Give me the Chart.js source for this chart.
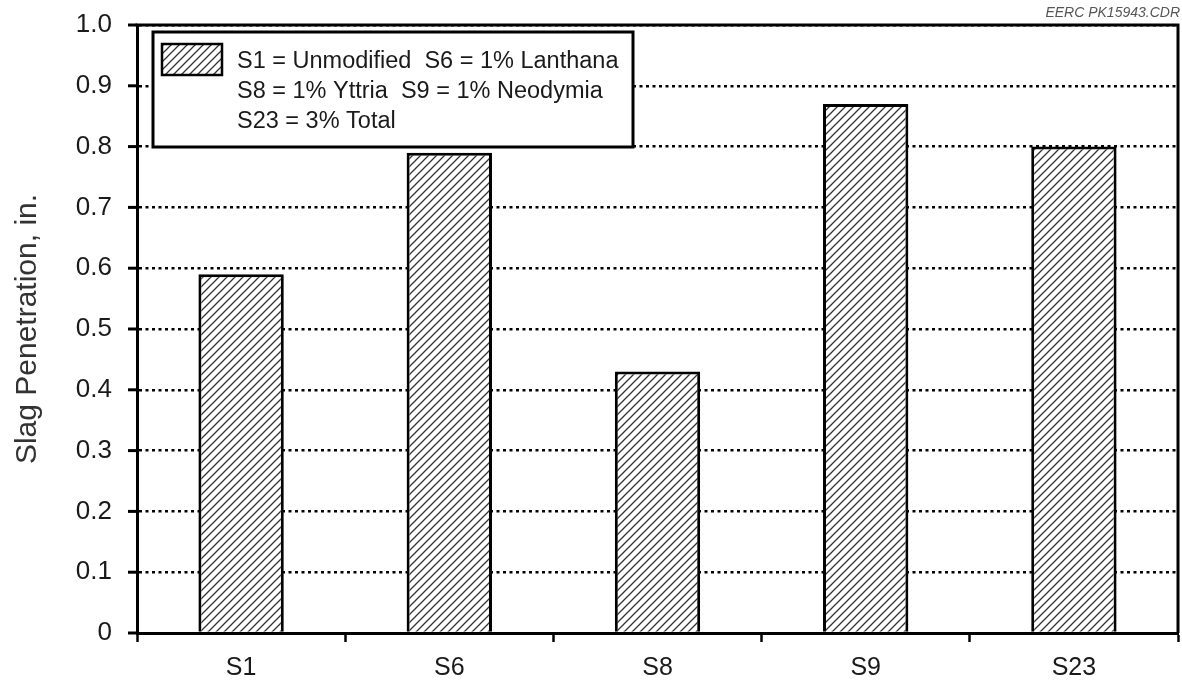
<!DOCTYPE html>
<html>
<head>
  <title>Slag Penetration</title>
  <script src="https://cdn.jsdelivr.net/npm/chart.js"></script>
  <style>
    body { margin: 0; background: #fff; }
  </style>
</head>
<body>
  <canvas id="slagChart" width="1182" height="687"></canvas>

  <script>
    // values
    const samples = ['S1', 'S6', 'S8', 'S9', 'S23'];
    const penetration = [0.59, 0.79, 0.43, 0.87, 0.80];
    const yTickValues = [0, 0.1, 0.2, 0.3, 0.4, 0.5, 0.6, 0.7, 0.8, 0.9, 1.0];
    const legendLines = [
      'S1 = Unmodified  S6 = 1% Lanthana',
      'S8 = 1% Yttria  S9 = 1% Neodymia',
      'S23 = 3% Total'
    ];
    const fileTag = 'EERC PK15943.CDR';

    const FONT = '"Liberation Sans", Arial, Helvetica, sans-serif';

    // diagonal hatch used for the bars and the legend swatch
    function makeHatch() {
      const c = document.createElement('canvas');
      c.width = 8; c.height = 8;
      const g = c.getContext('2d');
      g.fillStyle = '#fff';
      g.fillRect(0, 0, 8, 8);
      g.strokeStyle = '#333';
      g.lineWidth = 1.3;
      g.beginPath();
      g.moveTo(0, 8); g.lineTo(8, 0);
      g.moveTo(-1, 1); g.lineTo(1, -1);
      g.moveTo(7, 9); g.lineTo(9, 7);
      g.stroke();
      return g.createPattern(c, 'repeat');
    }

    const ctx = document.getElementById('slagChart').getContext('2d');
    const hatch = makeHatch();

    // frame, y tick marks, legend box and file tag
    const extras = {
      id: 'extras',
      afterDatasetsDraw(chart) {
        const { ctx, chartArea: a, scales } = chart;
        ctx.save();
        ctx.strokeStyle = '#000';
        ctx.lineWidth = 3;
        ctx.beginPath();
        ctx.moveTo(a.left - 1.5, a.top);
        ctx.lineTo(a.right, a.top);
        ctx.lineTo(a.right, a.bottom);
        ctx.stroke();

        // outward ticks on the y axis (solid, the grid ones are dotted)
        yTickValues.forEach(v => {
          const y = scales.y.getPixelForValue(v);
          ctx.beginPath();
          ctx.moveTo(a.left - 9, y);
          ctx.lineTo(a.left, y);
          ctx.stroke();
        });

        // legend box
        const bx = a.left + 16, by = a.top + 7, bw = 480, bh = 115;
        ctx.fillStyle = '#fff';
        ctx.fillRect(bx, by, bw, bh);
        ctx.lineWidth = 3;
        ctx.strokeRect(bx, by, bw, bh);

        ctx.fillStyle = hatch;
        ctx.fillRect(bx + 9, by + 12, 60, 31);
        ctx.lineWidth = 2.5;
        ctx.strokeRect(bx + 9, by + 12, 60, 31);

        ctx.fillStyle = '#1a1a1a';
        ctx.font = '23.5px ' + FONT;
        ctx.textAlign = 'left';
        ctx.textBaseline = 'alphabetic';
        legendLines.forEach((t, i) => {
          ctx.fillText(t, bx + 84, by + 36 + i * 30);
        });

        // file tag top right
        ctx.fillStyle = '#555';
        ctx.font = 'italic 14px ' + FONT;
        ctx.textAlign = 'right';
        ctx.fillText(fileTag, a.right + 2, 17);
        ctx.restore();
      }
    };

    new Chart(ctx, {
      type: 'bar',
      data: {
        labels: samples,
        datasets: [{
          label: 'Slag Penetration',
          data: penetration,
          backgroundColor: hatch,
          borderColor: '#000',
          borderWidth: 3,
          barPercentage: 0.41,
          categoryPercentage: 1.0
        }]
      },
      options: {
        responsive: false,
        animation: false,
        devicePixelRatio: 1,
        layout: { padding: { left: 0, right: 4, top: 25, bottom: 0 } },
        plugins: {
          legend: { display: false },
          tooltip: { enabled: false }
        },
        scales: {
          x: {
            grid: {
              offset: true,
              drawOnChartArea: false,
              drawTicks: true,
              tickLength: 9,
              tickWidth: 2.5,
              tickColor: '#000'
            },
            border: { color: '#000', width: 3 },
            ticks: {
              color: '#1a1a1a',
              padding: 11,
              font: { family: FONT, size: 25 }
            },
            afterFit(scale) { scale.height = 54; }
          },
          y: {
            min: 0,
            max: 1,
            grid: {
              color: '#000',
              lineWidth: 2.5,
              drawTicks: true,
              tickLength: 22,
              tickColor: 'rgba(0,0,0,0)'
            },
            border: { color: '#000', width: 3, dash: [3, 3.5] },
            ticks: {
              stepSize: 0.1,
              color: '#1a1a1a',
              padding: 3,
              font: { family: FONT, size: 26 },
              callback: v => (v === 0 ? '0' : v.toFixed(1))
            },
            title: {
              display: true,
              text: 'Slag Penetration, in.',
              color: '#333',
              font: { family: FONT, size: 30 },
              padding: { top: 10, bottom: 0 }
            },
            afterFit(scale) { scale.width = 137; }
          }
        }
      },
      plugins: [extras]
    });
  </script>
</body>
</html>
